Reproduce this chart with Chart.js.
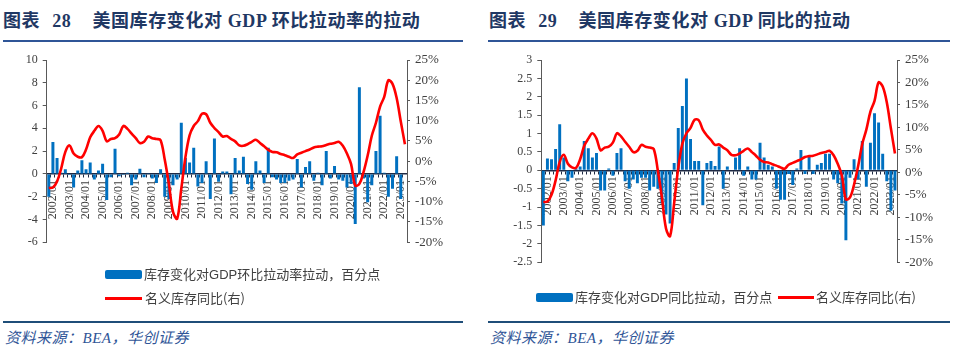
<!DOCTYPE html>
<html><head><meta charset="utf-8">
<script src="https://cdn.jsdelivr.net/npm/chart.js@4.4.0/dist/chart.umd.min.js"></script>
<style>
html,body{margin:0;padding:0;background:#fff;}
body{width:960px;height:355px;position:relative;overflow:hidden;font-family:"Liberation Serif","Noto Sans CJK SC",serif;}
.title{position:absolute;top:9px;font-size:18px;line-height:20px;font-weight:bold;color:#1F3864;white-space:nowrap;letter-spacing:0.6px;}
.title .cn{font-family:"Noto Sans CJK SC",sans-serif;}
.rule{position:absolute;height:2px;background:#2F5597;}
.src{position:absolute;top:329px;font-size:15px;line-height:18px;font-style:italic;color:#2F5597;white-space:nowrap;font-family:"Liberation Serif","Noto Sans CJK SC",serif;letter-spacing:0.5px;}
.lg{position:absolute;font-family:"Noto Sans CJK SC",sans-serif;font-size:13px;line-height:16px;color:#404040;white-space:nowrap;}
.lg .lat{font-family:"Liberation Sans",sans-serif;}
.box{position:absolute;height:9px;width:37px;background:#0070C0;border-radius:2px;}
.ln{position:absolute;height:3px;width:37px;background:#FF0000;}
canvas{position:absolute;}
</style></head>
<body>
<div class="title" style="left:3px"><span class="cn">图表</span><span style="margin-left:12px">28</span><span style="margin-left:21px"><span class="cn">美国库存变化对</span> GDP <span class="cn">环比拉动率的拉动</span></span></div>
<div class="title" style="left:489px"><span class="cn">图表</span><span style="margin-left:12px">29</span><span style="margin-left:21px"><span class="cn">美国库存变化对</span> GDP <span class="cn">同比的拉动</span></span></div>
<div class="rule" style="left:3px;top:40px;width:460px"></div>
<div class="rule" style="left:488px;top:40px;width:462px"></div>

<canvas id="c1" width="460" height="210" style="left:0;top:45px"></canvas>
<canvas id="c2" width="470" height="230" style="left:485px;top:45px"></canvas>

<div class="box" style="left:105px;top:270px"></div>
<div class="lg" style="left:144px;top:266px">库存变化对<span class="lat">GDP</span>环比拉动率拉动，百分点</div>
<div class="ln" style="left:105px;top:297px"></div>
<div class="lg" style="left:145px;top:290px">名义库存同比(右)</div>

<div class="box" style="left:536px;top:293px"></div>
<div class="lg" style="left:575px;top:289px">库存变化对<span class="lat">GDP</span>同比拉动，百分点</div>
<div class="ln" style="left:778px;top:296px;width:36px"></div>
<div class="lg" style="left:816px;top:289px">名义库存同比(右)</div>

<div class="rule" style="left:3px;top:321px;width:460px;background:#1F4E79"></div>
<div class="rule" style="left:488px;top:321px;width:462px;background:#1F4E79"></div>
<div class="src" style="left:5px">资料来源：BEA，华创证券</div>
<div class="src" style="left:490px">资料来源：BEA，华创证券</div>

<script>
// Quarterly categories, 2001Q4 .. 2023Q2
const categories = [
 "2001/10",
 "2002/01","2002/04","2002/07","2002/10",
 "2003/01","2003/04","2003/07","2003/10",
 "2004/01","2004/04","2004/07","2004/10",
 "2005/01","2005/04","2005/07","2005/10",
 "2006/01","2006/04","2006/07","2006/10",
 "2007/01","2007/04","2007/07","2007/10",
 "2008/01","2008/04","2008/07","2008/10",
 "2009/01","2009/04","2009/07","2009/10",
 "2010/01","2010/04","2010/07","2010/10",
 "2011/01","2011/04","2011/07","2011/10",
 "2012/01","2012/04","2012/07","2012/10",
 "2013/01","2013/04","2013/07","2013/10",
 "2014/01","2014/04","2014/07","2014/10",
 "2015/01","2015/04","2015/07","2015/10",
 "2016/01","2016/04","2016/07","2016/10",
 "2017/01","2017/04","2017/07","2017/10",
 "2018/01","2018/04","2018/07","2018/10",
 "2019/01","2019/04","2019/07","2019/10",
 "2020/01","2020/04","2020/07","2020/10",
 "2021/01","2021/04","2021/07","2021/10",
 "2022/01","2022/04","2022/07","2022/10",
 "2023/01","2023/04"
];

// Inventory contribution to QoQ annualized GDP growth, pp
const qoqContribution = [
 -2.0,
 2.8, 1.4, 0.1, 0.4,
 -0.1, -1.2, 0.3, 1.2,
 0.4, 1.0, -0.5, 0.3,
 0.9, -2.3, -0.3, 2.2,
 -0.2, -0.1, 0.1, -1.0,
 -0.5, 0.45, -0.3, 0.05,
 -0.4, -0.8, 0.4, -2.0,
 -2.2, -1.0, -0.5, 4.5,
 1.4, 1.0, 2.3, -1.1,
 -0.8, 1.1, -2.2, 3.1,
 -0.7, 0.2, 0.2, -1.8,
 1.4, 0.3, 1.5, -0.9,
 -1.4, 1.1, 0.3, -0.8,
 2.3, -0.3, -0.5, -0.8,
 -0.8, -0.6, -0.5, 1.3,
 -1.2, 0.6, 1.1, -0.6,
 0.1, -1.0, 2.0, -0.4,
 0.7, -0.5, -0.6, -1.2,
 -0.9, -4.4, 7.6, -0.4,
 -2.5, -1.0, 2.0, 5.1,
 0.1, -2.0, -1.3, 1.55,
 -2.2, 0.0
];

// Inventory contribution to YoY GDP growth, pp
const yoyContribution = [
 -1.5,
 0.32, 0.3, 0.58, 1.25,
 0.35, -0.3, -0.2, 0.05,
 0.1, 0.8, 0.6, 0.35,
 0.47, -0.55, -0.55, 0.05,
 -0.15, 0.47, 0.6, -0.3,
 -0.5, -0.25, -0.35, -0.2,
 -0.2, -0.55, -0.45, -0.5,
 -0.9, -1.2, -1.45, 0.2,
 1.15, 1.75, 2.5, 0.85,
 0.25, 0.25, -0.95, 0.2,
 0.25, 0.12, 0.65, -0.5,
 0.1, 0.0, 0.35, 0.6,
 -0.15, 0.1, -0.25, -0.25,
 0.75, 0.35, 0.15, 0.1,
 -0.5, -0.8, -0.8, -0.1,
 -0.4, 0.05, 0.55, -0.1,
 0.4, -0.1, 0.15, 0.2,
 0.45, 0.45, -0.25, -0.35,
 -0.9, -1.9, -0.2, 0.3,
 -0.25, 0.8, -0.45, 0.75,
 1.55, 1.3, 0.45, -0.3,
 -1.1, -0.55
];

// Nominal inventories YoY, % (right axis)
const nominalInventoryYoY = [
 -6.6,
 -6.5, -5.0, -1.8, 2.3,
 3.9, 1.9, 1.1, 1.0,
 2.9, 5.9, 7.5, 8.7,
 7.5, 4.9, 5.5, 5.7,
 6.6, 8.7, 8.0, 6.8,
 5.7, 4.5, 4.8, 6.1,
 5.7, 5.5, 5.2, 0.4,
 -5.6, -12.5, -14.2, -6.8,
 1.0, 6.4, 8.7, 9.9,
 11.7, 11.6, 9.5, 8.2,
 7.2, 6.1, 6.2, 5.5,
 4.9, 3.9, 3.8, 4.2,
 4.8, 5.3, 4.5, 3.7,
 2.8, 2.3, 2.2, 1.8,
 1.5, 1.1, 0.8, 1.7,
 2.1, 2.5, 2.9, 3.4,
 3.6, 3.7, 4.0, 4.3,
 4.5, 4.8, 3.8, 1.9,
 -0.7, -6.0, -5.6, -2.7,
 1.4, 6.3, 9.5, 13.5,
 15.9, 20.0, 19.1, 15.6,
 9.8, 4.2
];

const leftTicks = {min: -6, max: 10, step: 2};
const rightTicksL = {min: -2.5, max: 3, step: 0.5};
const pctTicks = {min: -20, max: 25, step: 5};

const tickFont = {family: "Liberation Serif", size: 12};
const tickColor = "#404040";
const axisColor = "#595959";

function makeChart(id, barData, leftCfg, leftW, rightW, pad) {
  return new Chart(document.getElementById(id), {
    data: {
      labels: categories,
      datasets: [
        {type: 'line', data: nominalInventoryYoY, yAxisID: 'y1', borderColor: '#FF0000',
         borderWidth: 2.6, pointRadius: 0, tension: 0.35, order: 0},
        {type: 'bar', data: barData, yAxisID: 'y', backgroundColor: '#0070C0',
         barPercentage: 0.72, categoryPercentage: 1.0, order: 1}
      ]
    },
    options: {
      responsive: false, animation: false, devicePixelRatio: 1,
      layout: {padding: pad},
      plugins: {legend: {display: false}, tooltip: {enabled: false}},
      scales: {
        x: {
          type: 'category', axis: 'x', position: {y: 0}, offset: true,
          grid: {display: true, drawOnChartArea: false, drawTicks: true, tickLength: 3, color: '#1F2A44', offset: true},
          border: {display: true, color: '#1F2A44', width: 1.5},
          ticks: {
            autoSkip: false, minRotation: 90, maxRotation: 90, padding: 3,
            font: tickFont, color: tickColor,
            callback: function(v) { const l = this.getLabelForValue(v); return l.endsWith('/01') ? l : ''; }
          },
          afterFit: s => { s.height = 0; }
        },
        y: {
          position: 'left', min: leftCfg.min, max: leftCfg.max,
          ticks: {stepSize: leftCfg.step, font: tickFont, color: tickColor, padding: 5,
                  callback: v => String(+Number(v).toFixed(1))},
          grid: {display: true, drawOnChartArea: false, tickLength: 4, color: axisColor},
          border: {display: true, color: axisColor, width: 1},
          afterFit: s => { s.width = leftW; }
        },
        y1: {
          position: 'right', min: pctTicks.min, max: pctTicks.max,
          ticks: {stepSize: pctTicks.step, font: {family: "Liberation Serif", size: 13}, color: tickColor, padding: 5,
                  callback: v => v + '%'},
          grid: {display: true, drawOnChartArea: false, tickLength: 3, color: axisColor},
          border: {display: true, color: axisColor, width: 1},
          afterFit: s => { s.width = rightW; }
        }
      }
    }
  });
}

makeChart('c1', qoqContribution, leftTicks, 46.7, 53, {top: 15, bottom: 12, left: 0, right: 0});
makeChart('c2', yoyContribution, rightTicksL, 56.3, 58, {top: 15, bottom: 10, left: 0, right: 0});
</script>
</body></html>
